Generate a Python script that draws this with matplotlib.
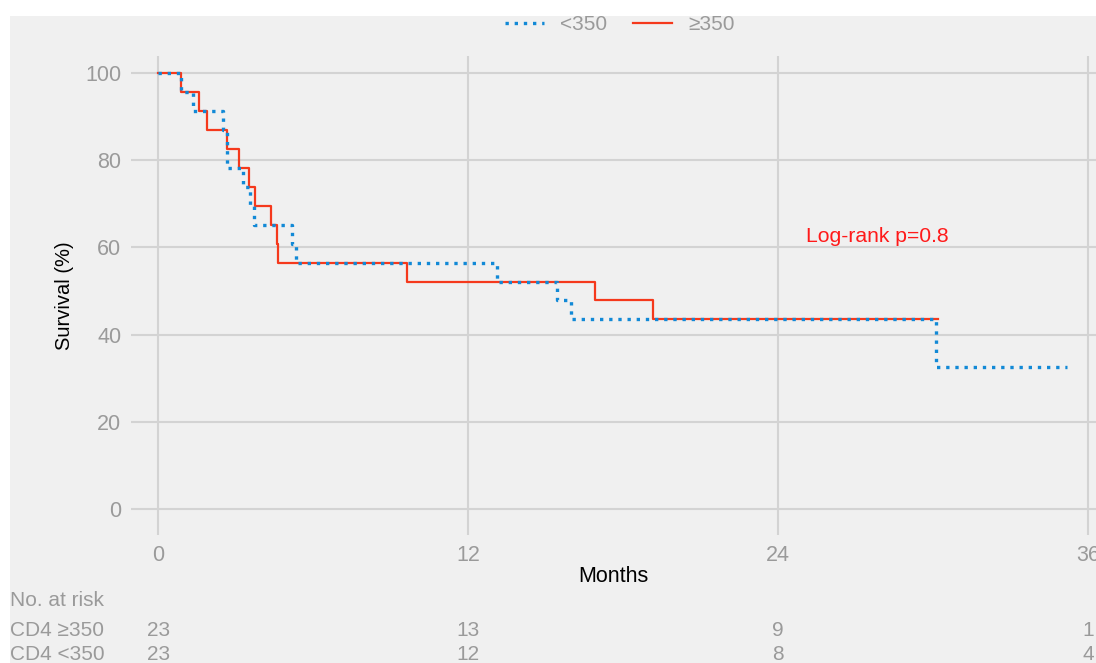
import matplotlib
matplotlib.use("Agg")
import matplotlib.pyplot as plt
from matplotlib.patches import Rectangle

plt.rcParams["font.family"] = ["Liberation Sans", "DejaVu Sans"]

# Kaplan-Meier curves
t_low = [0, 0.88, 1.36, 2.53, 2.68, 3.3, 3.56, 3.72, 5.17, 5.34, 13.13, 15.43, 16.0, 30.12, 35.17]
s_low = [100, 95.65, 91.30, 86.96, 78.26, 73.91, 69.57, 65.22, 60.87, 56.52, 52.17, 47.83, 43.48, 32.61, 32.61]

t_high = [0, 0.89, 1.59, 1.88, 2.68, 3.15, 3.52, 3.76, 4.37, 4.61, 4.65, 9.65, 16.92, 19.15, 30.2]
s_high = [100, 95.65, 91.30, 86.96, 82.61, 78.26, 73.91, 69.57, 65.22, 60.87, 56.52, 52.17, 47.83, 43.48, 43.48]

risk_times = [0, 12, 24, 36]
risk_high = [23, 13, 9, 1]
risk_low = [23, 12, 8, 4]

grey = "#9a9a9a"
blue = "#1289d6"
red = "#f5391c"

fig = plt.figure(figsize=(10.96, 6.63), dpi=100, facecolor="white")
fig.patches.append(Rectangle((10 / 1096, 0), 1, 1 - 16 / 663, transform=fig.transFigure,
                             facecolor="#f0f0f0", edgecolor="none", zorder=-10))

ax = fig.add_axes([131 / 1096, 1 - 535 / 663, 1 - 131 / 1096, (535 - 55.5) / 663])
ax.set_facecolor("none")
ax.plot(t_high, s_high, drawstyle="steps-post", color=red, lw=1.6, label="≥350", zorder=3)
ax.plot(t_low, s_low, drawstyle="steps-post", color=blue, lw=2.4, linestyle=(0, (1, 1.75)),
        dash_capstyle="butt", label="<350", zorder=4)

ax.set_xlim(-1.05, 36.31)
ax.set_ylim(-5.96, 104.0)
ax.set_xticks([0, 12, 24, 36])
ax.set_yticks([0, 20, 40, 60, 80, 100])
ax.grid(True, color="#d3d3d3", lw=1.5)
ax.set_axisbelow(True)
ax.tick_params(length=0, labelsize=15.5, labelcolor=grey, pad=7)
for sp in ax.spines.values():
    sp.set_visible(False)

ax.set_xlabel("Months", fontsize=15.5, labelpad=0)
ax.set_ylabel("Survival (%)", fontsize=14.5, labelpad=8)

ax.text(25.1, 62.4, "Log-rank p=0.8", color="#ff1a1a", fontsize=15.2, va="center", ha="left")

h, l = ax.get_legend_handles_labels()
fig.legend(h[::-1], l[::-1], loc="center", bbox_to_anchor=(620 / 1096, 1 - 25 / 663), ncol=2,
           frameon=False, fontsize=15, labelcolor=grey, handlelength=1.85, columnspacing=1.25,
           handletextpad=0.8)

# risk table
fig.text(10 / 1096, 1 - 600 / 663, "No. at risk", color=grey, fontsize=15, va="center")
fig.text(10 / 1096, 1 - 630 / 663, "CD4 ≥350", color=grey, fontsize=15, va="center")
fig.text(10 / 1096, 1 - 655 / 663, "CD4 <350", color=grey, fontsize=15, va="center")
for t, a, b in zip(risk_times, risk_high, risk_low):
    xf = fig.transFigure.inverted().transform(ax.transData.transform((t, 0)))[0]
    fig.text(xf, 1 - 630 / 663, str(a), color=grey, fontsize=15, va="center", ha="center")
    fig.text(xf, 1 - 655 / 663, str(b), color=grey, fontsize=15, va="center", ha="center")

fig.savefig("out.png", dpi=100, facecolor=fig.get_facecolor())
